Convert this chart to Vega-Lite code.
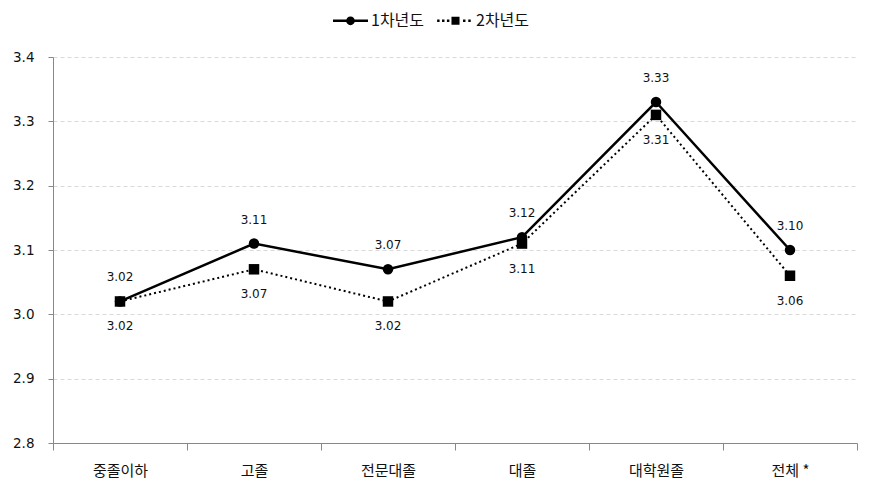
{
  "$schema": "https://vega.github.io/schema/vega-lite/v6.json",
  "width": 804,
  "height": 386,
  "autosize": {"type": "none"},
  "padding": {"left": 53, "top": 57, "right": 14, "bottom": 50},
  "background": "white",
  "config": {
    "view": {"stroke": null},
    "font": "Noto Sans CJK KR",
    "text": {"font": "DejaVu Sans"}
  },
  "data": {
    "values": [
      {"group": "중졸이하", "series": "1차년도", "value": 3.02},
      {"group": "고졸", "series": "1차년도", "value": 3.11},
      {"group": "전문대졸", "series": "1차년도", "value": 3.07},
      {"group": "대졸", "series": "1차년도", "value": 3.12},
      {"group": "대학원졸", "series": "1차년도", "value": 3.33},
      {"group": "전체 *", "series": "1차년도", "value": 3.10},
      {"group": "중졸이하", "series": "2차년도", "value": 3.02},
      {"group": "고졸", "series": "2차년도", "value": 3.07},
      {"group": "전문대졸", "series": "2차년도", "value": 3.02},
      {"group": "대졸", "series": "2차년도", "value": 3.11},
      {"group": "대학원졸", "series": "2차년도", "value": 3.31},
      {"group": "전체 *", "series": "2차년도", "value": 3.06}
    ]
  },
  "encoding": {
    "x": {
      "field": "group", "type": "nominal", "sort": null,
      "scale": {"type": "band", "paddingInner": 0, "paddingOuter": 0},
      "axis": {
        "title": null, "labelAngle": 0, "tickBand": "extent",
        "domainColor": "#888888", "tickColor": "#888888", "tickSize": 7,
        "labelFontSize": 15, "labelColor": "#111111", "labelPadding": 13,
        "labelFont": "Noto Sans CJK KR"
      }
    },
    "y": {
      "field": "value", "type": "quantitative",
      "scale": {"domain": [2.8, 3.4], "nice": false, "zero": false},
      "axis": {
        "title": null, "values": [2.8, 2.9, 3.0, 3.1, 3.2, 3.3, 3.4], "format": ".1f",
        "domainColor": "#888888", "tickColor": "#888888", "tickSize": 5,
        "gridColor": "#d9d9d9", "gridDash": [4, 3],
        "labelFontSize": 13.5, "labelColor": "#111111", "labelPadding": 14,
        "labelFont": "DejaVu Sans"
      }
    }
  },
  "layer": [
    {
      "transform": [{"filter": "datum.series === '1차년도'"}],
      "mark": {"type": "line", "color": "black", "strokeWidth": 2.5}
    },
    {
      "transform": [{"filter": "datum.series === '2차년도'"}],
      "mark": {"type": "line", "color": "black", "strokeWidth": 2, "strokeDash": [2, 3]}
    },
    {
      "mark": {"type": "point", "filled": true, "color": "black", "size": 110, "opacity": 1},
      "encoding": {
        "shape": {
          "field": "series", "type": "nominal",
          "scale": {"domain": ["1차년도", "2차년도"], "range": ["circle", "square"]},
          "legend": null
        }
      }
    },
    {
      "transform": [{"filter": "datum.series === '1차년도'"}],
      "mark": {"type": "text", "dy": -24, "fontSize": 12, "color": "#111111", "font": "DejaVu Sans"},
      "encoding": {"text": {"field": "value", "type": "quantitative", "format": ".2f"}}
    },
    {
      "transform": [{"filter": "datum.series === '2차년도'"}],
      "mark": {"type": "text", "dy": 25, "fontSize": 12, "color": "#111111", "font": "DejaVu Sans"},
      "encoding": {"text": {"field": "value", "type": "quantitative", "format": ".2f"}}
    },
    {
      "mark": {"type": "point", "filled": true, "color": "black", "opacity": 0, "size": 1},
      "encoding": {
        "shape": {
          "field": "series", "type": "nominal",
          "scale": {
            "domain": ["1차년도", "2차년도"],
            "range": [
              "M-1,-0.07H-0.2V0.07H-1Z M0.2,-0.07H1V0.07H0.2Z M0.25,0A0.25,0.25,0,1,1,-0.25,0A0.25,0.25,0,1,1,0.25,0Z",
              "M-1.05,-0.07H-0.91V0.07H-1.05Z M-0.77,-0.07H-0.63V0.07H-0.77Z M-0.49,-0.07H-0.35V0.07H-0.49Z M-0.23,-0.23H0.23V0.23H-0.23Z M0.43,-0.07H0.57V0.07H0.43Z M0.73,-0.07H0.87V0.07H0.73Z"
            ]
          },
          "legend": {
            "title": null, "orient": "none", "direction": "horizontal",
            "legendX": 280, "legendY": -54,
            "symbolSize": 1225, "symbolOpacity": 1, "symbolFillColor": "black",
            "symbolStrokeWidth": 0, "symbolStrokeColor": "black",
            "labelFontSize": 16, "labelColor": "#111111", "labelOffset": 3,
            "columnPadding": 12, "labelFont": "Noto Sans CJK KR"
          }
        }
      }
    }
  ],
  "resolve": {"scale": {"shape": "independent"}, "legend": {"shape": "independent"}}
}
